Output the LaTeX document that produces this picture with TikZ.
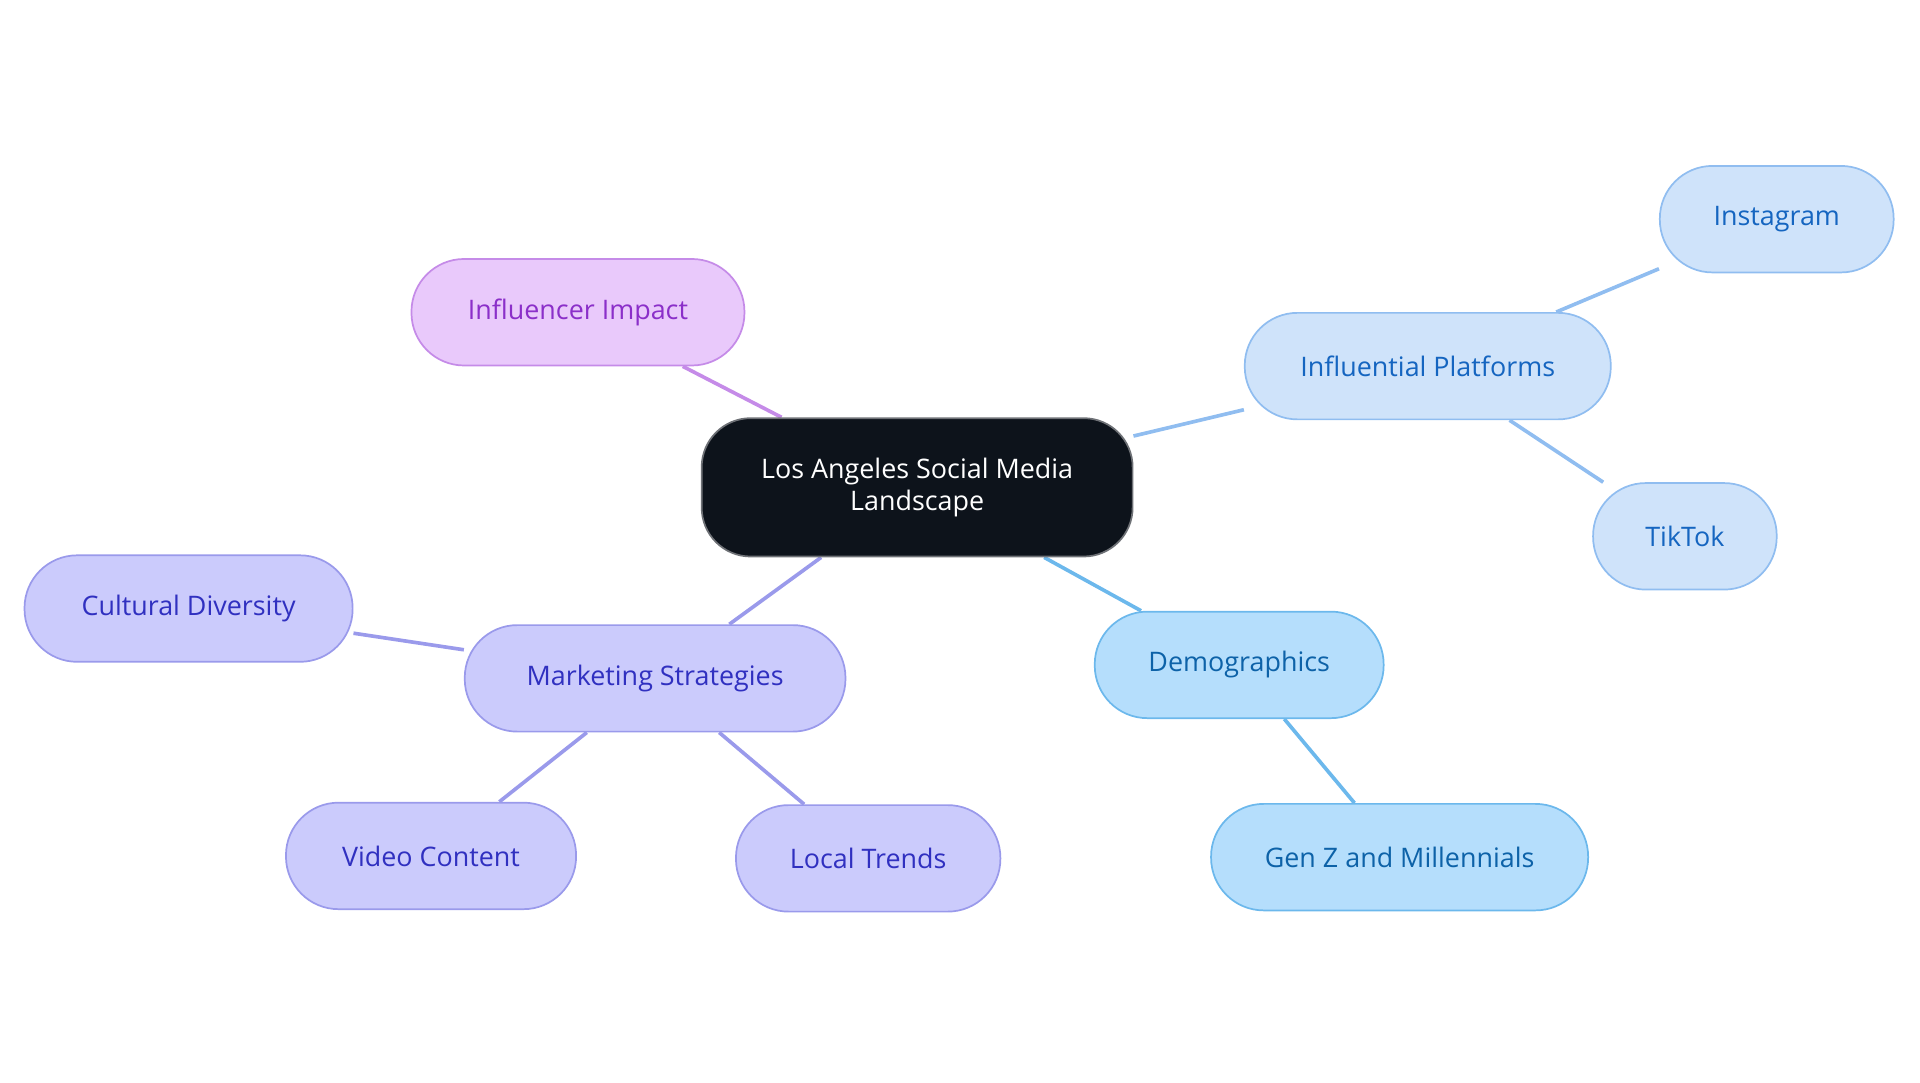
\documentclass[tikz,border=0pt]{standalone}
\usepackage{fontspec}
\setmainfont{Open Sans}
\usetikzlibrary{backgrounds}
\definecolor{cdark}{HTML}{0D131B}
\definecolor{pfill}{HTML}{E9C9FB}\definecolor{pdraw}{HTML}{C58BE8}\definecolor{ptext}{HTML}{8B2FC9}
\definecolor{bfill}{HTML}{CFE3FA}\definecolor{bdraw}{HTML}{90BDF0}\definecolor{btext}{HTML}{1565C0}
\definecolor{dfill}{HTML}{B5DEFC}\definecolor{ddraw}{HTML}{6CB8EC}\definecolor{dtext}{HTML}{0D62A8}
\definecolor{mfill}{HTML}{CBCBFC}\definecolor{mdraw}{HTML}{9A9AEB}\definecolor{mtext}{HTML}{3030C0}
\tikzset{x=0.02cm,y=-0.02cm,
 box/.style={rectangle,rounded corners=0.86cm,minimum height=1.74cm,line width=0.8pt,font=\fontsize{12.5}{15}\selectfont,inner sep=0pt,align=center},
 pbox/.style={box,fill=pfill,draw=pdraw,text=ptext},
 bbox/.style={box,fill=bfill,draw=bdraw,text=btext},
 dbox/.style={box,fill=dfill,draw=ddraw,text=dtext},
 mbox/.style={box,fill=mfill,draw=mdraw,text=mtext},
 edge/.style={line width=1.7pt}}
\begin{document}
\begin{tikzpicture}
\useasboundingbox (0,0) rectangle (1568,884);
\node[box,fill=cdark,draw=cdark!60,text=white,minimum width=7.04cm,minimum height=2.26cm,rounded corners=0.8cm] (c) at (749,398) {Los Angeles Social Media\\Landscape};
\node[pbox,minimum width=5.44cm] (inf) at (472,255) {Influencer Impact};
\node[bbox,minimum width=5.98cm] (plat) at (1166,299) {Influential Platforms};
\node[bbox,minimum width=3.82cm] (ig) at (1451,179) {Instagram};
\node[bbox,minimum width=3.0cm] (tt) at (1376,438) {TikTok};
\node[dbox,minimum width=4.72cm] (dem) at (1012,543) {Demographics};
\node[dbox,minimum width=6.16cm] (gen) at (1143,700) {Gen Z and Millennials};
\node[mbox,minimum width=6.22cm] (mkt) at (535,554) {Marketing Strategies};
\node[mbox,minimum width=5.36cm] (cul) at (154,497) {Cultural Diversity};
\node[mbox,minimum width=4.74cm] (vid) at (352,699) {Video Content};
\node[mbox,minimum width=4.32cm] (loc) at (709,701) {Local Trends};
\begin{scope}[on background layer]
\draw[edge,draw=pdraw] (c) -- (inf);
\draw[edge,draw=bdraw] (c) -- (plat);
\draw[edge,draw=bdraw] (plat) -- (ig);
\draw[edge,draw=bdraw] (plat) -- (tt);
\draw[edge,draw=ddraw] (c) -- (dem);
\draw[edge,draw=ddraw] (dem) -- (gen);
\draw[edge,draw=mdraw] (c) -- (mkt);
\draw[edge,draw=mdraw] (mkt) -- (cul);
\draw[edge,draw=mdraw] (mkt) -- (vid);
\draw[edge,draw=mdraw] (mkt) -- (loc);
\end{scope}
\end{tikzpicture}
\end{document}
